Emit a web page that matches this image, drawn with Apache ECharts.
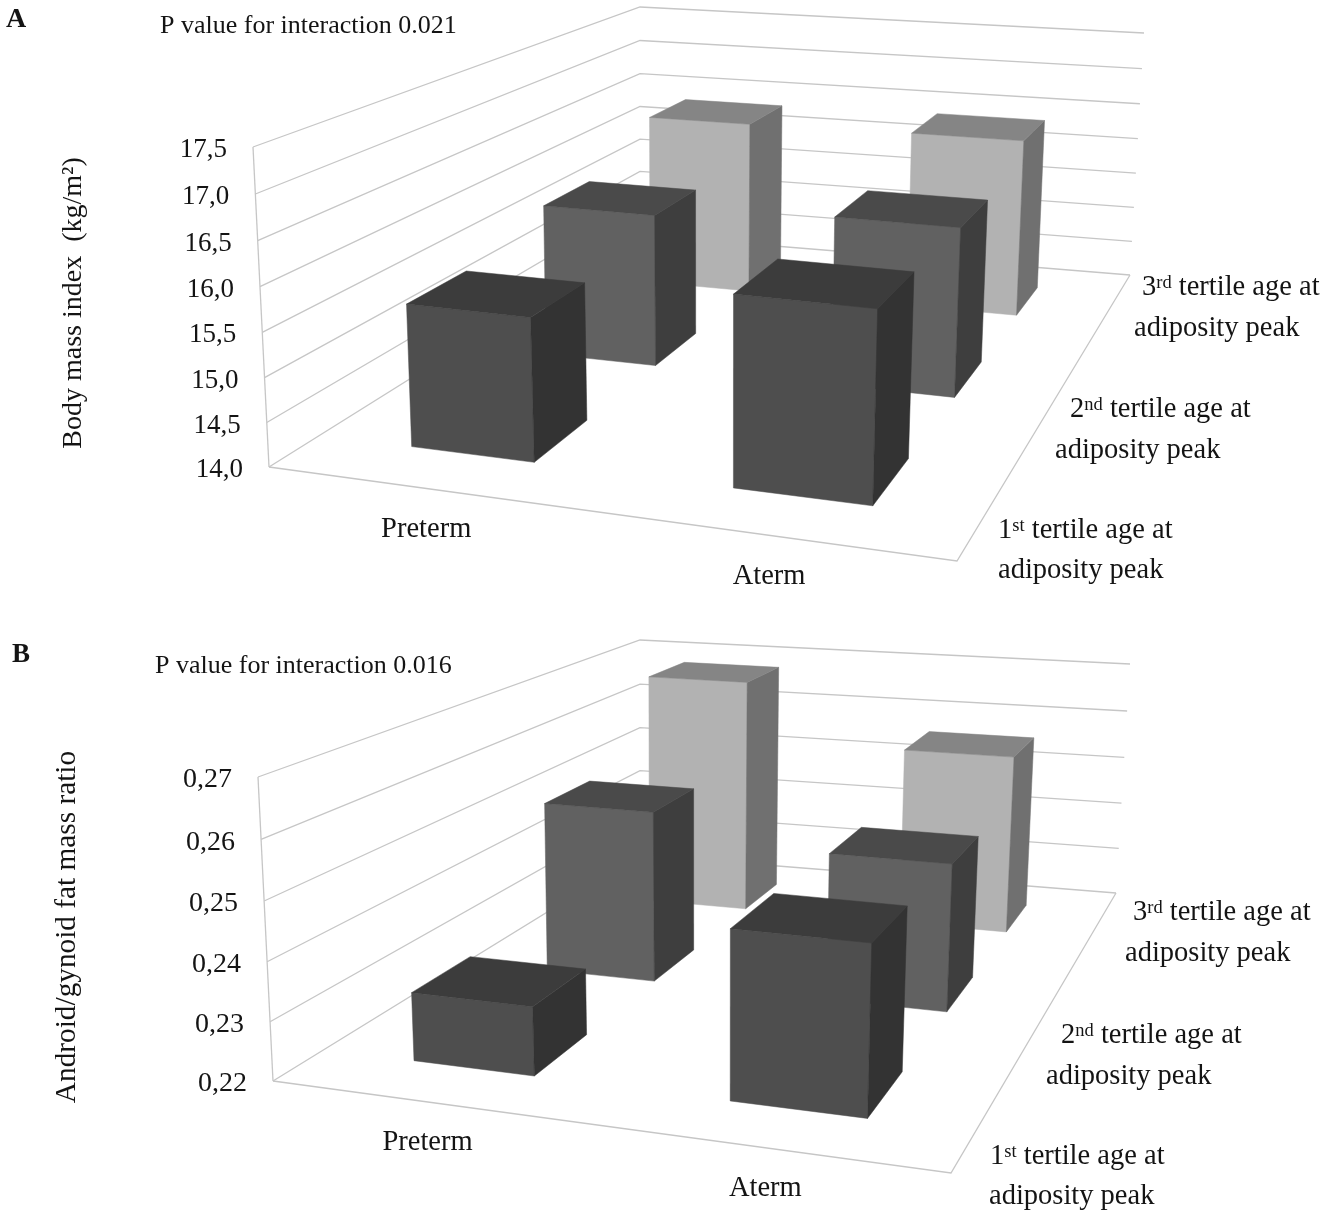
<!DOCTYPE html>
<html><head><meta charset="utf-8">
<style>html,body{margin:0;padding:0;background:#fff}#c{width:1324px;height:1211px}</style>
<script src="https://cdn.jsdelivr.net/npm/echarts@6/dist/echarts.min.js"></script>
</head><body><div id="c"></div>
<script>
const categories = ['Preterm', 'Aterm'];
const tertileNames = ['1st tertile', '2nd tertile', '3rd tertile'];
const bmiTicks = ['14,0','14,5','15,0','15,5','16,0','16,5','17,0','17,5'];
const bmiTertile1 = [15.63, 16.12];
const bmiTertile2 = [15.91, 16.08];
const bmiTertile3 = [16.36, 16.39];
const ratioTicks = ['0,22','0,23','0,24','0,25','0,26','0,27'];
const ratioTertile1 = [0.2318, 0.2483];
const ratioTertile2 = [0.2523, 0.2473];
const ratioTertile3 = [0.268, 0.2561];

const SERIF = '"Liberation Serif","Times New Roman",serif';
const TEXT = '#141414';
const GRID_LINE = '#c6c6c6';
const FACES = [
  {front:'#4e4e4e', top:'#3c3c3c', side:'#333333'},
  {front:'#616161', top:'#4a4a4a', side:'#3e3e3e'},
  {front:'#b2b2b2', top:'#858585', side:'#707070'}
];
const BAR_HALF_U = 0.099, BAR_SHIFT_U = 0.003, BAR_HALF_V = 0.0667, HEIGHT_PERSPECTIVE = 0.968;

function unitSquareToQuad(p00,p10,p11,p01){
  const dx1=p10[0]-p11[0],dx2=p01[0]-p11[0],sx=p00[0]-p10[0]+p11[0]-p01[0];
  const dy1=p10[1]-p11[1],dy2=p01[1]-p11[1],sy=p00[1]-p10[1]+p11[1]-p01[1];
  const den=dx1*dy2-dx2*dy1;
  const g=(sx*dy2-dx2*sy)/den,h=(dx1*sy-sx*dy1)/den;
  const a=p10[0]-p00[0]+g*p10[0],b=p01[0]-p00[0]+h*p01[0],c=p00[0];
  const d=p10[1]-p00[1]+g*p10[1],e=p01[1]-p00[1]+h*p01[1],f=p00[1];
  return (u,v)=>{const w=g*u+h*v+1;return [(a*u+b*v+c)/w,(d*u+e*v+f)/w];};
}
function makeProjection(box){
  const floor=unitSquareToQuad(box.fl,box.fr,box.br,box.bl);
  const ceil=unitSquareToQuad(box.tfl,box.tfr,box.tbr,box.tbl);
  const r=HEIGHT_PERSPECTIVE;
  return (u,v,t)=>{
    const F=floor(u,v),T=ceil(u,v),s=t*r/(1-t+t*r);
    return [F[0]+(T[0]-F[0])*s,F[1]+(T[1]-F[1])*s];
  };
}
function heightFraction(api,params,value){
  const cs=params.coordSys;
  return (cs.y+cs.height-api.coord([0,value])[1])/cs.height;
}
function wallSeries(gi,project,ticks,minV){
  return {type:'custom',xAxisIndex:gi,yAxisIndex:gi,silent:true,clip:false,z:2,
    data:ticks.map(t=>[0,t]),
    renderItem(params,api){
      const t=heightFraction(api,params,api.value(1));
      const lineStyle={stroke:GRID_LINE,lineWidth:1.3,fill:null};
      const children=[{type:'polyline',shape:{points:[project(0,0,t),project(0,1,t),project(1,1,t)]},style:lineStyle}];
      if(api.value(1)===minV){
        children.push({type:'polyline',shape:{points:[project(0,0,0),project(1,0,0),project(1,1,0)]},style:lineStyle});
        children.push({type:'line',shape:{x1:project(0,0,0)[0],y1:project(0,0,0)[1],x2:project(0,0,1)[0],y2:project(0,0,1)[1]},style:lineStyle});
      }
      return {type:'group',children};
    }};
}
function barSeries(gi,project,name,tertile,values){
  const faces=FACES[tertile];
  const vc=(tertile+0.5)/3;
  return {type:'custom',name,xAxisIndex:gi,yAxisIndex:gi,silent:true,clip:false,z:3,
    data:values.map((v,i)=>[i,v]),
    renderItem(params,api){
      const cs=params.coordSys;
      const u=(api.coord([api.value(0),0])[0]-cs.x)/cs.width+BAR_SHIFT_U;
      const t=heightFraction(api,params,api.value(1));
      const u0=u-BAR_HALF_U,u1=u+BAR_HALF_U,v0=vc-BAR_HALF_V,v1=vc+BAR_HALF_V;
      const poly=(pts,fill)=>({type:'polygon',shape:{points:pts},style:{fill,stroke:fill,lineWidth:0.5}});
      return {type:'group',children:[
        poly([project(u0,v0,0),project(u1,v0,0),project(u1,v0,t),project(u0,v0,t)],faces.front),
        poly([project(u1,v0,0),project(u1,v1,0),project(u1,v1,t),project(u1,v0,t)],faces.side),
        poly([project(u0,v0,t),project(u1,v0,t),project(u1,v1,t),project(u0,v1,t)],faces.top)
      ]};
    }};
}
function categoryLabelSeries(gi,project,dy){
  return {type:'custom',xAxisIndex:gi,yAxisIndex:gi,silent:true,clip:false,z:4,
    data:categories.map((c,i)=>[i,0]),
    encode:{x:0},
    renderItem(params,api){
      const cs=params.coordSys;
      const u=(api.coord([api.value(0),api.value(1)])[0]-cs.x)/cs.width;
      const p=project(u,0,0);
      return {type:'text',style:{text:categories[api.value(0)],x:p[0]+2,y:p[1]+dy,align:'center',verticalAlign:'middle',fill:TEXT,font:'28.5px '+SERIF}};
    }};
}
function yAxisFor(gi,project,ticks,min,max,interval,name,gridRect,nameGap,namePad,fontSize,tickSize){
  const rich={};
  ticks.forEach((tk,i)=>{
    const t=i/(ticks.length-1);
    const p=project(0,0,t);
    const uniformY=gridRect.top+gridRect.height*(1-t);
    const dy=p[1]-uniformY+3;
    rich['t'+i]={fontFamily:SERIF,fontSize:tickSize,color:TEXT,
      padding:[Math.max(0,2*dy),Math.max(0,gridRect.left-p[0]),Math.max(0,-2*dy),0]};
  });
  return {type:'value',gridIndex:gi,min,max,interval,
    axisLine:{show:false},axisTick:{show:false},splitLine:{show:false},
    axisLabel:{margin:26,formatter:(v,i)=>'{t'+i+'|'+ticks[i]+'}',rich},
    name,nameLocation:'middle',nameGap,
    nameTextStyle:{fontFamily:SERIF,fontSize,color:TEXT,padding:namePad}};
}
const boxA={fl:[269,467],fr:[957,561],br:[1130,275],bl:[640,235],tfl:[253,147],tfr:[972,213],tbr:[1144,33],tbl:[640,7]};
const boxB={fl:[273,1081],fr:[951,1173],br:[1116,893],bl:[640,855],tfl:[258,777],tfr:[965,840],tbr:[1130,664],tbl:[640,640]};
const projA=makeProjection(boxA),projB=makeProjection(boxB);
const gridA={left:270,top:147,width:690,height:320};
const gridB={left:274,top:777,width:680,height:304};

function sup(line1){ // '3rd tertile' => rich text with a raised ordinal
  return '{n|'+line1.charAt(0)+'}{s|'+line1.slice(1,3)+'}{n|'+line1.slice(3)+' age at}';
}
const labelRich={n:{fontFamily:SERIF,fontSize:28.5,fill:TEXT,color:TEXT},
  s:{fontFamily:SERIF,fontSize:18.5,fill:TEXT,color:TEXT,verticalAlign:'top',lineHeight:24}};
function tertileLabel(text,x,y,isSup){
  return {type:'text',z:5,style:{text:isSup?sup(text):text,x,y,rich:labelRich,verticalAlign:'middle',align:'left',
    font:'28.5px '+SERIF,fill:TEXT}};
}
function plainText(text,x,y,size,weight){
  return {type:'text',z:5,style:{text,x,y,verticalAlign:'middle',align:'left',font:(weight||'normal')+' '+size+'px '+SERIF,fill:TEXT}};
}
const LOWER='adiposity peak';
const graphics=[
  plainText('A',6,20,28,'bold'),
  plainText('P value for interaction 0.021',160,26,26),
  tertileLabel(tertileNames[2],1142,288,true),tertileLabel(LOWER,1134,329),
  tertileLabel(tertileNames[1],1070,410,true),tertileLabel(LOWER,1055,451),
  tertileLabel(tertileNames[0],998,531,true),tertileLabel(LOWER,998,571),
  plainText('B',12,655,27,'bold'),
  plainText('P value for interaction 0.016',155,666,26),
  tertileLabel(tertileNames[2],1133,913,true),tertileLabel(LOWER,1125,954),
  tertileLabel(tertileNames[1],1061,1036,true),tertileLabel(LOWER,1046,1077),
  tertileLabel(tertileNames[0],990,1157,true),tertileLabel(LOWER,989,1197)
];
const option={
  backgroundColor:'#fff',animation:false,
  grid:[gridA,gridB],
  xAxis:[0,1].map(g=>({type:'category',gridIndex:g,data:categories,show:false})),
  yAxis:[
    yAxisFor(0,projA,bmiTicks,14,17.5,0.5,'Body mass index  (kg/m\u00B2)',gridA,182,[0,0,0,8],28,27),
    yAxisFor(1,projB,ratioTicks,0.22,0.27,0.01,'Android/gynoid fat mass ratio',gridB,192,[0,0,0,4],29.3,28)
  ],
  graphic:graphics,
  series:[
    wallSeries(0,projA,[14,14.5,15,15.5,16,16.5,17,17.5],14),
    barSeries(0,projA,tertileNames[2],2,bmiTertile3),
    barSeries(0,projA,tertileNames[1],1,bmiTertile2),
    barSeries(0,projA,tertileNames[0],0,bmiTertile1),
    categoryLabelSeries(0,projA,41),
    wallSeries(1,projB,[0.22,0.23,0.24,0.25,0.26,0.27],0.22),
    barSeries(1,projB,tertileNames[2],2,ratioTertile3),
    barSeries(1,projB,tertileNames[1],1,ratioTertile2),
    barSeries(1,projB,tertileNames[0],0,ratioTertile1),
    categoryLabelSeries(1,projB,41)
  ]
};
echarts.init(document.getElementById('c'),null,{renderer:'canvas'}).setOption(option);
</script></body></html>
